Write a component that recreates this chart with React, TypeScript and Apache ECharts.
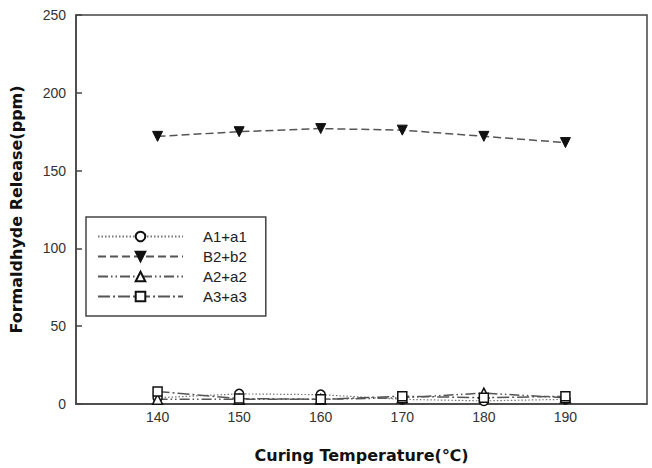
import React, { useEffect, useRef } from "react";
import * as echarts from "echarts";

const temps = [140, 150, 160, 170, 180, 190];
const seriesNames = ["A1+a1", "B2+b2", "A2+a2", "A3+a3"];
const a1 = [4, 6.5, 6, 3, 2, 3];
const b2 = [172, 175, 177, 176, 172, 168];
const a2 = [3, 3, 3, 4, 7, 4];
const a3 = [8, 3.5, 3, 5, 4, 5];
const yTicks = [0, 50, 100, 150, 200, 250];
const xTickLabels = [140, 150, 160, 170, 180, 190];

const FONT = "'Liberation Sans', Arial, sans-serif";
const NAME_FONT = "'DejaVu Sans', 'Liberation Sans', sans-serif";

export default function App() {
  const ref = useRef<HTMLDivElement>(null);
  useEffect(() => {
    if (!ref.current) return;
    const chart = echarts.init(ref.current, undefined, { renderer: "svg" });
    const pair = (vals: number[]) => temps.map((t, i) => [t, vals[i]]);
    const lineColor = "#555";
    const openItem = { color: "#fff", borderColor: "#111", borderWidth: 1.5 };
    chart.setOption({
      animation: false,
      backgroundColor: "#fff",
      textStyle: { fontFamily: FONT },
      grid: {
        left: 73,
        right: 5,
        top: 15,
        bottom: 60,
        show: true,
        borderColor: "#444",
        borderWidth: 1.5,
        backgroundColor: "transparent",
      },
      legend: {
        orient: "vertical",
        left: 86,
        top: 217,
        data: seriesNames,
        itemWidth: 85,
        itemHeight: 12,
        itemGap: 5,
        padding: [12, 19, 12, 11],
        borderColor: "#444",
        borderWidth: 1.5,
        textStyle: { fontSize: 15, color: "#222", fontFamily: FONT, padding: [0, 0, 0, 15] },
      },
      xAxis: {
        type: "value",
        min: 130,
        max: 200,
        interval: 10,
        name: "Curing Temperature(℃)",
        nameLocation: "middle",
        nameGap: 43,
        nameTextStyle: { fontSize: 16, fontWeight: "bold", color: "#111", fontFamily: NAME_FONT },
        axisLine: { show: true, lineStyle: { color: "#444", width: 1.5 } },
        axisTick: { show: false },
        splitLine: { show: false },
        axisLabel: {
          fontSize: 14,
          color: "#333",
          margin: 6,
          formatter: (v: number) => (xTickLabels.includes(v) ? String(v) : ""),
        },
      },
      yAxis: {
        type: "value",
        min: yTicks[0],
        max: yTicks[yTicks.length - 1],
        interval: 50,
        name: "Formaldhyde Release(ppm)",
        nameLocation: "middle",
        nameGap: 52,
        nameTextStyle: { fontSize: 16, fontWeight: "bold", color: "#111", fontFamily: NAME_FONT },
        axisLine: { show: true, lineStyle: { color: "#444", width: 1.5 } },
        axisTick: { show: true, inside: true, length: 6, lineStyle: { color: "#444", width: 1.5 } },
        splitLine: { show: false },
        axisLabel: { fontSize: 14, color: "#333", margin: 10 },
      },
      series: [
        {
          name: seriesNames[0],
          type: "line",
          data: pair(a1),
          symbol: "circle",
          symbolSize: 9,
          lineStyle: { color: "#777", width: 1.2, type: [1.5, 2] },
          itemStyle: openItem,
          z: 3,
        },
        {
          name: seriesNames[1],
          type: "line",
          data: pair(b2),
          symbol: "triangle",
          symbolRotate: 180,
          symbolSize: 10,
          lineStyle: { color: lineColor, width: 1.5, type: [8, 4] },
          itemStyle: { color: "#111", borderColor: "#111", borderWidth: 1 },
          z: 4,
        },
        {
          name: seriesNames[2],
          type: "line",
          data: pair(a2),
          symbol: "triangle",
          symbolSize: 10,
          lineStyle: { color: lineColor, width: 1.5, type: [10, 3, 1.5, 3, 1.5, 3] },
          itemStyle: openItem,
          z: 3,
        },
        {
          name: seriesNames[3],
          type: "line",
          data: pair(a3),
          symbol: "rect",
          symbolSize: 9,
          lineStyle: { color: lineColor, width: 1.5, type: [12, 3, 2, 3] },
          itemStyle: openItem,
          z: 3,
        },
      ],
    });
    return () => chart.dispose();
  }, []);
  return (
    <div
      ref={ref}
      style={{ position: "fixed", left: 0, top: 0, width: 652, height: 468, background: "#fff" }}
    />
  );
}
